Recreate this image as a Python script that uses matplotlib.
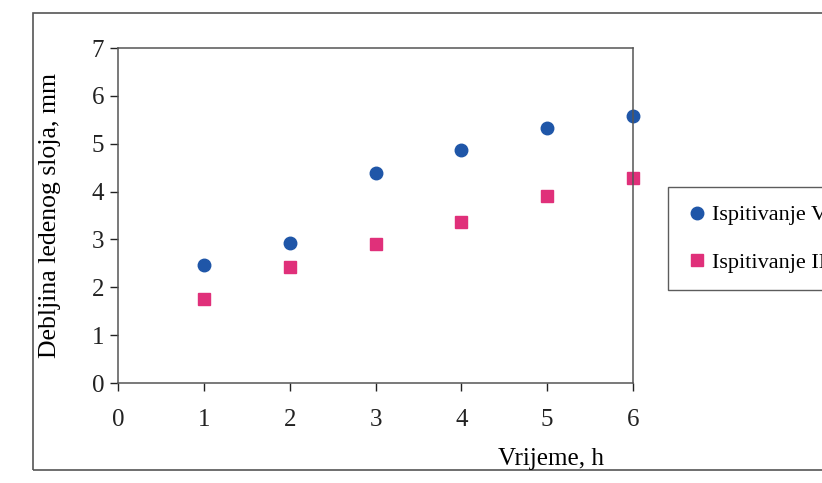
import matplotlib
matplotlib.use('agg')
import matplotlib.pyplot as plt
from matplotlib.patches import Rectangle

plt.rcParams['font.family'] = ['Liberation Serif', 'DejaVu Serif']

# data
hours = [1, 2, 3, 4, 5, 6]
test_vi = [2.46, 2.92, 4.38, 4.86, 5.32, 5.57]
test_iii = [1.75, 2.42, 2.90, 3.36, 3.90, 4.28]
x_ticks = [0, 1, 2, 3, 4, 5, 6]
y_ticks = [0, 1, 2, 3, 4, 5, 6, 7]

fig = plt.figure(figsize=(8.22, 4.83), dpi=100)
ax = fig.add_axes([0.1436, 0.207, 0.6265, 0.6936])

# outer chart frame (runs off the right side like the scan)
fig.patches.append(Rectangle((33/822, 13/483), 1.0, 457/483, transform=fig.transFigure,
                             fill=False, edgecolor='#555555', linewidth=1.2))

ax.plot(hours, test_vi, 'o', color='#1f56a8', markersize=9, label='Ispitivanje VI', clip_on=False)
ax.plot(hours, test_iii, 's', color='#e0307a', markersize=8.5, label='Ispitivanje III', clip_on=False)

ax.set_xlim(0, 6)
ax.set_ylim(0, 7)
ax.set_xticks(x_ticks)
ax.set_yticks(y_ticks)
ax.tick_params(axis='both', direction='out', length=6, width=1, labelsize=18, colors='#222222')
ax.tick_params(axis='x', pad=13)
ax.tick_params(axis='y', pad=4)
for sp in ax.spines.values():
    sp.set_color('#555555')
    sp.set_linewidth(1.1)

ax.set_ylabel('Debljina ledenog sloja, mm', fontsize=18.5, labelpad=22)
fig.text(0.67, 0.05, 'Vrijeme, h', fontsize=18, ha='center', va='center')

leg = fig.legend(loc='upper left', bbox_to_anchor=(668/822, 1 - 187/483),
                 fontsize=16, frameon=True, fancybox=False, edgecolor='#333333',
                 handletextpad=0.2, handlelength=1.0, labelspacing=1.2,
                 borderpad=0.8, borderaxespad=0)
leg.get_frame().set_linewidth(1.0)

plt.savefig('out.png', dpi=100)
